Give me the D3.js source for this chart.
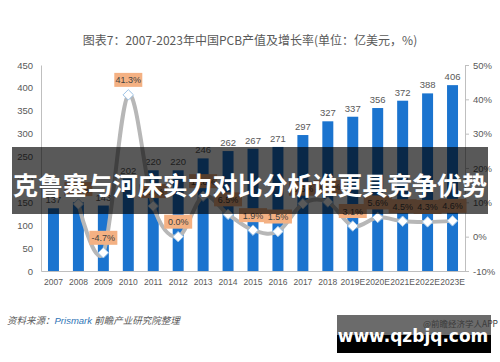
<!DOCTYPE html>
<html><head><meta charset="utf-8">
<script src="https://cdn.jsdelivr.net/npm/d3@7"></script>
<style>
html,body{margin:0;padding:0;background:#fff;}
svg{display:block;}
</style>
</head><body>
<svg id="chart" width="500" height="362"></svg>
<script>
const categories = ["2007","2008","2009","2010","2011","2012","2013","2014","2015","2016","2017","2018","2019E","2020E","2021E","2022E","2023E"];
const outputValues = [137,150,143,202,220,220,246,262,267,271,297,327,337,356,372,388,406];
const growthRates = [null,9.5,-4.7,41.3,8.9,0.0,11.8,6.5,1.9,1.5,9.6,10.1,3.1,5.6,4.5,4.3,4.6];
const leftTicks = [0,50,100,150,200,250,300,350,400,450];
const rightTicks = [-10,0,10,20,30,40,50];
const titleText = "图表7：2007-2023年中国PCB产值及增长率(单位：亿美元，%)";
const sourceLabel = "资料来源：";
const sourceOrg = "Prismark";
const sourceRest = " 前瞻产业研究院整理";
const bannerText = "克鲁塞与河床实力对比分析谁更具竞争优势";
const markTop = "@前瞻经济学人APP";
const markBottom = "www.qzbjq.com";

const svg = d3.select("#chart");
const FONT = "'Liberation Sans','Noto Sans CJK SC',sans-serif";
const CJK = "'Noto Sans CJK SC','Liberation Sans',sans-serif";

const x = d3.scaleBand().domain(categories).range([41,465]).paddingInner(0.56).paddingOuter(0.28);
const yL = d3.scaleLinear().domain([0,450]).range([271,65]);
const yR = d3.scaleLinear().domain([-10,50]).range([271,65]);

// title
svg.append("text").attr("x",250).attr("y",45).attr("text-anchor","middle")
  .attr("font-family",CJK).attr("font-size",12).attr("fill","#595959").text(titleText);

// axes
const gL = svg.append("g").attr("transform","translate(41,0)")
  .call(d3.axisLeft(yL).tickValues(leftTicks).tickSize(0).tickPadding(8));
gL.select(".domain").attr("stroke","#bfbfbf");
gL.selectAll("text").attr("font-family",FONT).attr("font-size",9.5).attr("fill","#595959");

const gR = svg.append("g").attr("transform","translate(465,0)")
  .call(d3.axisRight(yR).tickValues(rightTicks).tickSize(4).tickPadding(4).tickFormat(d=>d+"%"));
gR.select(".domain").attr("stroke","#bfbfbf");
gR.selectAll("line").attr("stroke","#bfbfbf");
gR.selectAll("text").attr("font-family",FONT).attr("font-size",9.5).attr("fill","#595959");

const gB = svg.append("g").attr("transform","translate(0,271)")
  .call(d3.axisBottom(x).tickSize(0).tickPadding(8));
gB.select(".domain").attr("stroke","#bfbfbf");
gB.selectAll("text").attr("font-family",FONT).attr("font-size",8.5).attr("fill","#595959");

// bars
svg.append("g").selectAll("rect").data(categories).join("rect")
  .attr("x",d=>x(d)).attr("width",x.bandwidth())
  .attr("y",(d,i)=>yL(outputValues[i])).attr("height",(d,i)=>yL(0)-yL(outputValues[i]))
  .attr("fill","#1b74cf");

svg.append("g").selectAll("text").data(categories).join("text")
  .attr("x",d=>x(d)+x.bandwidth()/2).attr("y",(d,i)=>yL(outputValues[i])-5)
  .attr("text-anchor","middle").attr("font-family",FONT).attr("font-size",9.5).attr("fill","#595959")
  .text((d,i)=>outputValues[i]);

// growth line
const pts = categories.map((c,i)=>({c,v:growthRates[i]})).filter(p=>p.v!==null);
const line = d3.line().x(p=>x(p.c)+x.bandwidth()/2).y(p=>yR(p.v)).curve(d3.curveCardinal.tension(0));
svg.append("path").datum(pts).attr("d",line).attr("fill","none")
  .attr("stroke","#b7b7b7").attr("stroke-width",4).attr("stroke-linejoin","round");

svg.append("g").selectAll("path").data(pts).join("path")
  .attr("d",d3.symbol(d3.symbolDiamond2,70)())
  .attr("transform",p=>`translate(${x(p.c)+x.bandwidth()/2},${yR(p.v)})`)
  .attr("fill","#fff").attr("stroke","#9dc3e6").attr("stroke-width",1);

// growth labels
const lg = svg.append("g").selectAll("g").data(pts).join("g")
  .attr("transform",p=>`translate(${x(p.c)+x.bandwidth()/2},${yR(p.v)-15})`);
lg.append("rect").attr("x",-14).attr("y",-7).attr("width",28).attr("height",14).attr("fill","#f4b183");
lg.append("text").attr("y",3.5).attr("text-anchor","middle").attr("font-family",FONT)
  .attr("font-size",9).attr("fill","#404040").text(p=>p.v.toFixed(1)+"%");

// source
const src = svg.append("text").attr("x",7).attr("y",324).attr("font-family",CJK)
  .attr("font-size",9.5).attr("font-style","italic").attr("fill","#595959");
src.append("tspan").text(sourceLabel);
src.append("tspan").attr("fill","#2e75b6").attr("font-family",FONT).text(sourceOrg);
src.append("tspan").text(sourceRest);

// banner overlay
svg.append("rect").attr("x",12).attr("y",147).attr("width",476).attr("height",67).attr("fill","#000").attr("opacity",0.65);
svg.append("text").attr("x",250).attr("y",195).attr("text-anchor","middle")
  .attr("font-family",CJK).attr("font-weight","bold").attr("font-size",25).attr("fill","#fff")
  .attr("textLength",474).text(bannerText);

// bottom-right watermark
svg.append("rect").attr("x",337).attr("y",315).attr("width",154).attr("height",20).attr("fill","#6b6b6b");
svg.append("rect").attr("x",337).attr("y",335).attr("width",154).attr("height",18).attr("fill","#000");
svg.append("text").attr("x",498).attr("y",327).attr("text-anchor","end")
  .attr("font-family",CJK).attr("font-size",8.5).attr("fill","#3a3a3a").text(markTop);
svg.append("text").attr("x",413).attr("y",342).attr("text-anchor","middle")
  .attr("font-family","'DejaVu Sans',sans-serif").attr("font-weight","bold").attr("font-size",17).attr("fill","#fff").text(markBottom);
</script>
</body></html>
